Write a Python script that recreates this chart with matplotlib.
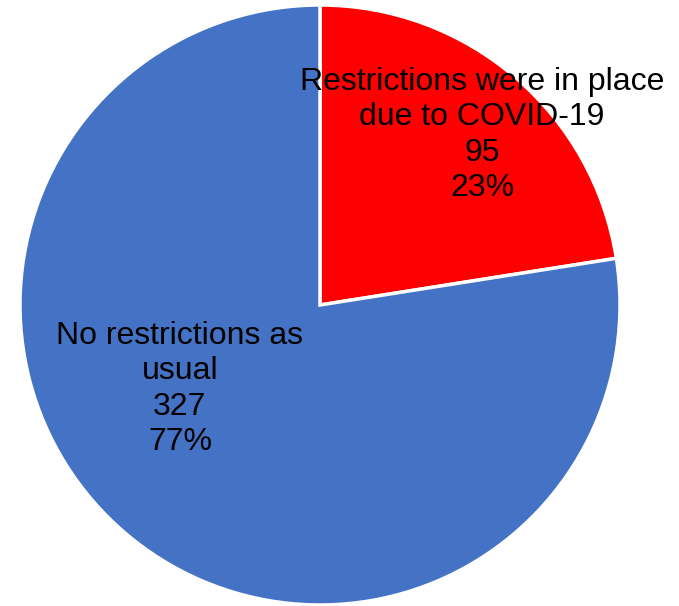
import matplotlib
matplotlib.use("Agg")
import matplotlib.pyplot as plt

categories = ["Restrictions were in place\ndue to COVID-19", "No restrictions as\nusual"]
counts = [95, 327]
colors = ["#FF0000", "#4472C4"]

plt.rcParams['font.family'] = ['Liberation Sans', 'DejaVu Sans']

fig = plt.figure(figsize=(6.79, 6.06), dpi=100)
ax = fig.add_axes([20/679, 1/606, 600/679, 600/606])
total = sum(counts)
wedges, _ = ax.pie(counts, colors=colors, startangle=90, counterclock=False,
                   radius=1.0, wedgeprops=dict(edgecolor="white", linewidth=2.5))
label_pos = [(0.54, 0.567), (-0.467, -0.28)]
for cat, c, (x, y) in zip(categories, counts, label_pos):
    pct = round(100 * c / total)
    ax.text(x, y, f"{cat}\n{c}\n{pct}%", ha="center", va="center",
            fontsize=23, linespacing=1.24, color="black")
ax.set_xlim(-1, 1)
ax.set_ylim(-1, 1)
ax.set_aspect("equal")
ax.axis("off")
fig.savefig("out.png", dpi=100)
